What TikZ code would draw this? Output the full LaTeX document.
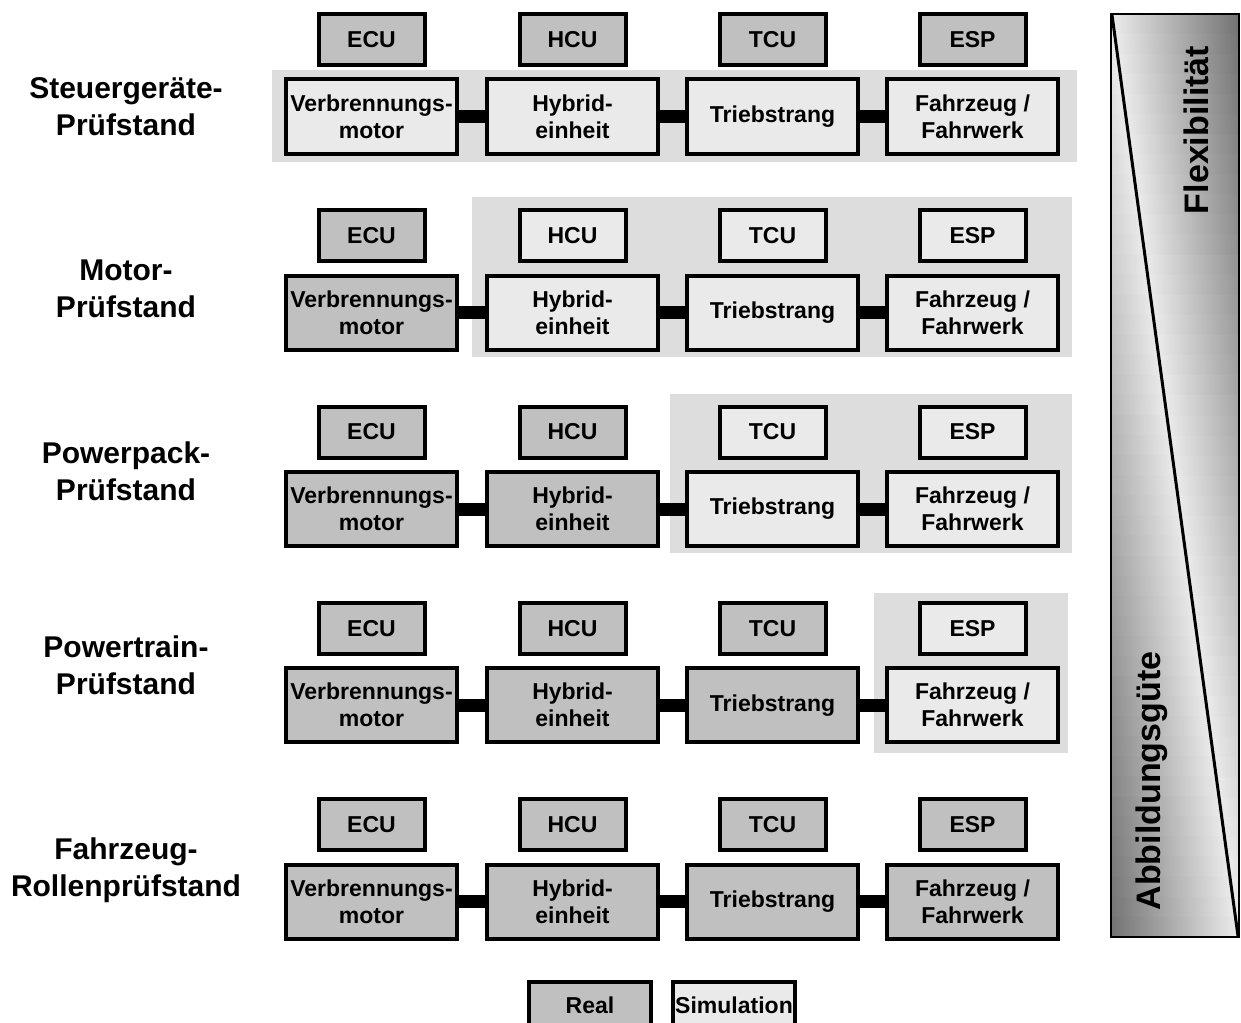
\documentclass[tikz,border=0pt]{standalone}
\usepackage{fontspec}
\setmainfont{Liberation Sans}
\definecolor{realc}{HTML}{C0C0C0}
\definecolor{simc}{HTML}{EAEAEA}
\definecolor{bandc}{HTML}{DDDDDD}
\definecolor{lightc}{HTML}{ECECEC}
\definecolor{darkc}{HTML}{707070}
\tikzset{
 boxbase/.style={draw=black, line width=2pt, inner sep=0pt, align=center, font=\fontsize{11.5}{13.5}\selectfont\bfseries},
 ctrl/.style={boxbase, minimum width=53pt, minimum height=25.5pt},
 mainbox/.style={boxbase, minimum width=85.5pt, minimum height=37pt},
 conn/.style={line width=6.5pt, draw=black},
 band/.style={fill=bandc, draw=none},
 rowlabel/.style={align=center, font=\fontsize{15}{18.5}\selectfont\bfseries},
 bartext/.style={font=\fontsize{17}{20}\selectfont\bfseries, rotate=90},
}
\begin{document}
\begin{tikzpicture}[x=0.5pt, y=-0.5pt]
\useasboundingbox (0,0) rectangle (1241,1022);
% bands (simulated parts)
\fill[band] (272,70) rectangle (1077,162);
\fill[band] (472,197) rectangle (1072,357);
\fill[band] (670,394) rectangle (1072,553);
\fill[band] (874,593) rectangle (1068,753);
% rows
\foreach \k in {0,...,4}{
 \pgfmathsetmacro\yc{39.5+\k*196.25}
 \pgfmathsetmacro\ym{116.5+\k*196.25}
 \foreach \j/\xc/\ct/\mt in {1/371.5/ECU/{Verbrennungs-\\motor},2/572.5/HCU/{Hybrid-\\einheit},3/772.5/TCU/Triebstrang,4/972.5/ESP/{Fahrzeug /\\Fahrwerk}}{
   \ifnum\j>\k \def\mfill{simc}\else\def\mfill{realc}\fi
   \ifnum\k=0 \def\cfill{realc}\else\let\cfill\mfill\fi
   \node[ctrl, fill=\cfill] (c\k\j) at (\xc,\yc) {\ct};
   \node[mainbox, fill=\mfill] (m\k\j) at (\xc,\ym) {\mt};
 }
 \draw[conn] (m\k1.east) -- (m\k2.west);
 \draw[conn] (m\k2.east) -- (m\k3.west);
 \draw[conn] (m\k3.east) -- (m\k4.west);
}
% row labels
\node[rowlabel] (l0) at (126,106.5) {Steuergeräte-\\Prüfstand};
\node[rowlabel] (l1) at (126,288.5) {Motor-\\Prüfstand};
\node[rowlabel] (l2) at (126,471.5) {Powerpack-\\Prüfstand};
\node[rowlabel] (l3) at (126,665.5) {Powertrain-\\Prüfstand};
\node[rowlabel] (l4) at (126,870) {Fahrzeug-\\Rollenprüfstand};
% right bar shading
\foreach \i in {0,...,45}{
 \pgfmathsetmacro\ya{14+\i*20.0652}
 \pgfmathsetmacro\yb{\ya+21}
 \pgfmathsetmacro\xa{1112+(\ya-14)/923*126}
 \pgfmathsetmacro\xb{1112+(\yb-14)/923*126}
 \pgfmathtruncatemacro\pu{(1239-(\xa+\xb)/2)/127*100}
 \pgfmathtruncatemacro\pl{((\xa+\xb)/2-1111)/127*100}
 \shade[left color=lightc, right color=darkc!\pu!lightc] (\xa,\ya) -- (1239,\ya) -- (1239,\yb) -- (\xb,\yb) -- cycle;
 \shade[left color=darkc!\pl!lightc, right color=lightc] (1111,\ya) -- (\xa,\ya) -- (\xb,\yb) -- (1111,\yb) -- cycle;
}
\draw[line width=1pt] (1111,14) rectangle (1239,937);
\draw[line width=1.5pt] (1112,15) -- (1238,936);
\node[bartext] (flex) at (1196,130) {Flexibilität};
\node[bartext] (abb) at (1152,781) {Abbildungsgüte};
% legend
\node[boxbase, fill=realc, minimum width=61pt, minimum height=23pt] (real) at (590,1005) {Real};
\node[boxbase, fill=simc, minimum width=61pt, minimum height=23pt] (sim) at (734,1005) {Simulation};
\end{tikzpicture}
\end{document}
